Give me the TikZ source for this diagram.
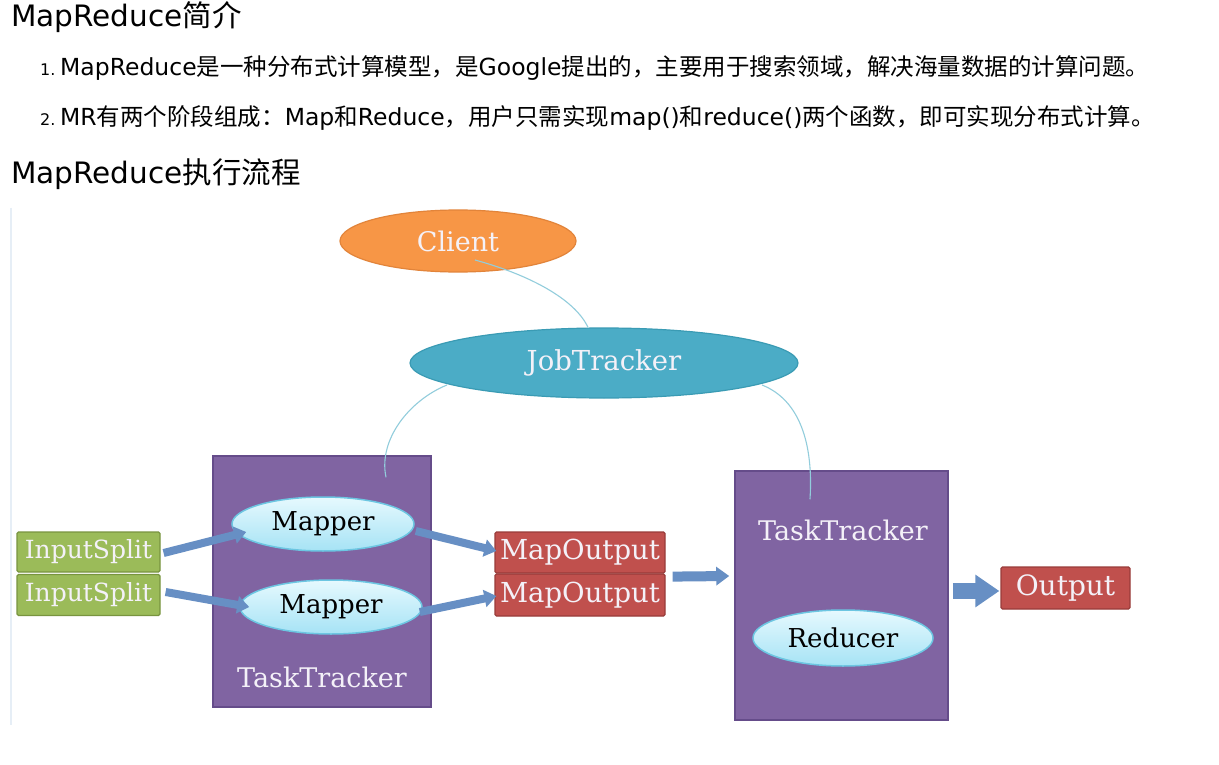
\documentclass[tikz,border=0pt]{standalone}
\usepackage{fontspec}
\setmainfont{DejaVu Sans}
\newfontfamily\cjk{Noto Sans CJK SC}
\newfontfamily\dser{DejaVu Serif}
\newcommand{\zh}[1]{{\cjk #1}}
\usetikzlibrary{arrows.meta,calc,shapes.geometric}
\definecolor{clientfill}{HTML}{F79646}
\definecolor{clientdraw}{HTML}{E2843A}
\definecolor{jtfill}{HTML}{4BACC6}
\definecolor{jtdraw}{HTML}{3A9BB4}
\definecolor{ttfill}{HTML}{8064A2}
\definecolor{ttdraw}{HTML}{654C8A}
\definecolor{mtop}{HTML}{E6F9FE}
\definecolor{mbot}{HTML}{A6E3F5}
\definecolor{mdraw}{HTML}{6CC6E2}
\definecolor{isfill}{HTML}{9BBB59}
\definecolor{isdraw}{HTML}{78943F}
\definecolor{mofill}{HTML}{C0504D}
\definecolor{modraw}{HTML}{993C3A}
\definecolor{arrowc}{HTML}{678FC4}
\definecolor{linkc}{HTML}{92CDDC}
\definecolor{labc}{HTML}{F4F1F8}
\definecolor{rulec}{HTML}{E6EEF6}
\tikzset{
  heading/.style={anchor=base west, inner sep=0pt, font=\fontsize{29.5}{31}\selectfont},
  bodytext/.style={anchor=base west, inner sep=0pt, font=\fontsize{23.5}{26}\selectfont},
  numtext/.style={anchor=base west, inner sep=0pt, font=\fontsize{16}{18}\selectfont},
  dfont/.style={font=\dser\fontsize{#1}{#1}\selectfont},
  ovalnode/.style={ellipse, inner sep=0pt, line width=1.2pt, text=labc},
  worker/.style={ellipse, inner sep=0pt, line width=1.5pt, draw=mdraw, top color=mtop, bottom color=mbot, text=black, dfont=26, minimum width=182pt, minimum height=54pt},
  tracker/.style={rectangle, inner sep=0pt, line width=1.5pt, draw=ttdraw, fill=ttfill},
  boxnode/.style={rectangle, rounded corners=1.5pt, inner sep=0pt, line width=1.2pt, text=labc},
  label/.style={inner sep=0pt, text=labc, dfont=27},
  link/.style={draw=linkc, line width=1.1pt},
  blockarrow/.style={draw=arrowc, line width=8pt, -{Triangle[width=17pt,length=12pt]}},
}
\begin{document}
\begin{tikzpicture}[x=1pt,y=-1pt]
\fill[white] (0,0) rectangle (1219,765);
\useasboundingbox (0,0) rectangle (1219,765);

% text
\node[heading] (h1) at (11,27) {MapReduce\zh{简介}};
\node[numtext] (n1) at (40,76) {1.};
\node[bodytext] (l1) at (60,76) {MapReduce\zh{是一种分布式计算模型，是}Google\zh{提出的，主要用于搜索领域，解决海量数据的计算问题。}};
\node[numtext] (n2) at (40,126) {2.};
\node[bodytext] (l2) at (60,126) {MR\zh{有两个阶段组成：}Map\zh{和}Reduce\zh{，用户只需实现}map()\zh{和}reduce()\zh{两个函数，即可实现分布式计算。}};
\node[heading] (h2) at (11,183) {MapReduce\zh{执行流程}};

% left rule
\draw[rulec, line width=1.5pt] (11,208) -- (11,725);

% nodes
\node[ovalnode, fill=clientfill, draw=clientdraw, minimum width=236pt, minimum height=62pt, dfont=27] (client) at (458,241) {Client};
\node[ovalnode, fill=jtfill, draw=jtdraw, minimum width=388pt, minimum height=70pt, dfont=27.5] (jt) at (604,363) {JobTracker};

\node[tracker, minimum width=218pt, minimum height=251pt] (tt1) at (322,581.5) {};
\node[label] (tt1l) at (322,677) {TaskTracker};
\node[tracker, minimum width=213pt, minimum height=249pt] (tt2) at (841.5,595.5) {};
\node[label] (tt2l) at (843,530) {TaskTracker};

\node[worker] (m1) at (323,524) {Mapper};
\node[worker] (m2) at (331,607) {Mapper};
\node[worker, minimum width=180pt, minimum height=56pt] (red) at (843,638) {Reducer};

\node[boxnode, fill=isfill, draw=isdraw, minimum width=143pt, minimum height=40pt, dfont=25] (is1) at (88.5,552) {InputSplit};
\node[boxnode, fill=isfill, draw=isdraw, minimum width=143pt, minimum height=41pt, dfont=25] (is2) at (88.5,595) {InputSplit};
\node[boxnode, fill=mofill, draw=modraw, minimum width=170pt, minimum height=41pt, dfont=27.5] (mo1) at (580,552.5) {MapOutput};
\node[boxnode, fill=mofill, draw=modraw, minimum width=170pt, minimum height=42pt, dfont=27.5] (mo2) at (580,595) {MapOutput};
\node[boxnode, fill=mofill, draw=modraw, minimum width=129pt, minimum height=42pt, dfont=28] (out) at (1065.5,588) {Output};

% block arrows
\draw[blockarrow] ($(is1.east)+(3,1)$) -- ($(m1.west)+(15,8)$);
\draw[blockarrow] ($(is2.east)+(5,-3)$) -- ($(m2.west)+(10,0)$);
\draw[blockarrow] ($(m1.east)+(1,7)$) -- ($(mo1.west)+(2,-1.5)$);
\draw[blockarrow] ($(m2.east)+(-3,5)$) -- ($(mo2.west)+(2,1)$);
\draw[blockarrow, line width=10pt, -{Triangle[width=18pt,length=13pt]}] ($(mo1.south east)+(7,3)$) -- ($(tt2.west)+(-5,-19.5)$);
\draw[draw=arrowc, line width=16pt, -{Triangle[width=31pt,length=24pt]}] ($(tt2.east)+(4,-4.5)$) -- ($(out.west)+(-1,3)$);

% links
\draw[link] ($(client.center)+(17,19)$) .. controls ($(client.center)+(72,34)$) and ($(jt.north)+(-29,-28)$) .. ($(jt.north)+(-16,0)$);
\draw[link] ($(jt.center)+(-157,22)$) .. controls ($(jt.center)+(-194,37)$) and ($(tt1.north)+(56,-16)$) .. ($(tt1.north)+(64,22)$);
\draw[link] ($(jt.center)+(158,22)$) .. controls ($(jt.center)+(196,37)$) and ($(tt2.north)+(-28,-26)$) .. ($(tt2.north)+(-31.5,29)$);
\end{tikzpicture}
\end{document}
